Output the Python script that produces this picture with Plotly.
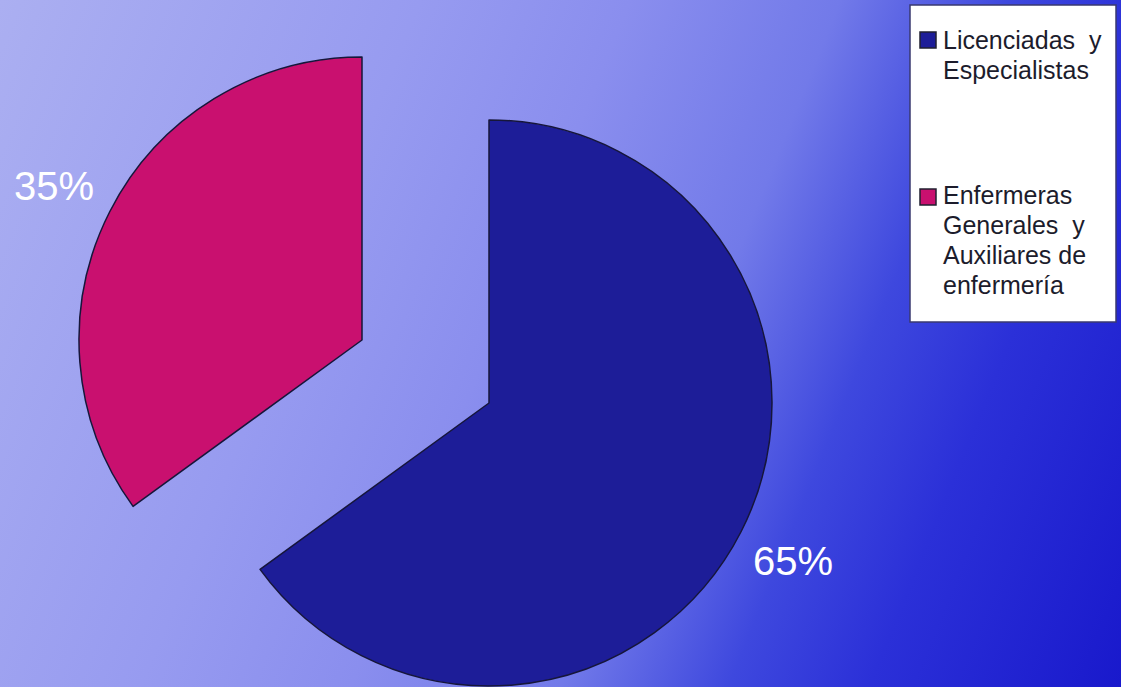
import base64
import math
import plotly.graph_objects as go

# Workforce composition (percent)
labels = ["Licenciadas y Especialistas", "Enfermeras Generales y Auxiliares de enfermería"]
legend_lines = [["Licenciadas  y", "Especialistas"],
                ["Enfermeras", "Generales  y", "Auxiliares de", "enfermería"]]
values = [65, 35]
colors = ["#1d1d98", "#c9106f"]

W, H = 1121, 687
CLEAR = "rgba(0,0,0,0)"
OUTLINE = "#16163a"

# Each slice gets its own pie trace (other slice transparent) so the
# exploded piece can sit at its own centre.
centers = [(489, 403), (362, 340)]   # pixel centres of the two pieces
R = 283                               # radius in pixels

fig = go.Figure()
for k in range(len(values)):
    cx, cy = centers[k]
    xd = [(cx - R) / W, (cx + R) / W]
    yd = [(H - cy - R) / H, (H - cy + R) / H]
    fill = [colors[i] if i == k else CLEAR for i in range(len(values))]
    lcol = [OUTLINE if i == k else CLEAR for i in range(len(values))]
    lwid = [1.5 if i == k else 0 for i in range(len(values))]
    fig.add_trace(go.Pie(
        labels=labels, values=values, sort=False, direction="clockwise",
        rotation=0, textinfo="none", hoverinfo="label+percent",
        marker=dict(colors=fill, line=dict(color=lcol, width=lwid)),
        domain=dict(x=[max(0, xd[0]), min(1, xd[1])], y=[max(0, yd[0]), min(1, yd[1])]),
        showlegend=False,
    ))

# Percentage labels on each slice bisector, outside the arc
total = sum(values)
start = 0.0
for k, v in enumerate(values):
    mid = (start + v / 2) / total * 2 * math.pi
    start += v
    cx, cy = centers[k]
    px = cx + 1.215 * R * math.sin(mid) - 2
    py = cy - 1.215 * R * math.cos(mid) + 2
    fig.add_annotation(x=px / W, y=1 - py / H, xref="paper", yref="paper",
                       text=f"{round(v / total * 100)}%", showarrow=False,
                       xanchor="center", yanchor="middle",
                       font=dict(family="Liberation Sans, Arial", size=40, color="white"))

# Legend box
fig.add_shape(type="rect", xref="paper", yref="paper",
              x0=910 / W, x1=1116 / W, y0=1 - 322 / H, y1=1 - 5 / H,
              fillcolor="white", line=dict(color="#3a3a70", width=1.5), layer="above")
sw_tops = [32, 189]
first_baselines = [50, 205]
LEG_SIZE = 25
for k in range(len(values)):
    t = sw_tops[k]
    fig.add_shape(type="rect", xref="paper", yref="paper",
                  x0=920 / W, x1=936 / W, y0=1 - (t + 16) / H, y1=1 - t / H,
                  fillcolor=colors[k], line=dict(color="#202030", width=1.5), layer="above")
    for j, line in enumerate(legend_lines[k]):
        base = first_baselines[k] + 30 * j
        mid_y = base - 0.39 * LEG_SIZE
        fig.add_annotation(x=941 / W, y=1 - mid_y / H, xref="paper", yref="paper",
                           text=line, showarrow=False,
                           xanchor="left", yanchor="middle", align="left",
                           font=dict(family="Liberation Sans, Arial", size=LEG_SIZE,
                                     color="#1c1c2c"))

# Blue gradient backdrop
svg = f"""<svg xmlns='http://www.w3.org/2000/svg' width='{W}' height='{H}' viewBox='0 0 {W} {H}' preserveAspectRatio='none'>
<defs><linearGradient id='g' gradientUnits='userSpaceOnUse' x1='0' y1='0' x2='1201' y2='490'>
<stop offset='0' stop-color='#abaff1'/>
<stop offset='0.3' stop-color='#979bf0'/>
<stop offset='0.45' stop-color='#8a8eee'/>
<stop offset='0.6' stop-color='#727ae9'/>
<stop offset='0.72' stop-color='#3e48de'/>
<stop offset='0.82' stop-color='#2b30d8'/>
<stop offset='1' stop-color='#1919cc'/>
</linearGradient></defs>
<rect x='0' y='0' width='{W}' height='{H}' fill='url(#g)'/></svg>"""
src = "data:image/svg+xml;base64," + base64.b64encode(svg.encode()).decode()
fig.add_layout_image(dict(source=src, xref="paper", yref="paper", x=0, y=1,
                          sizex=1, sizey=1, sizing="stretch", layer="below",
                          xanchor="left", yanchor="top"))

fig.update_layout(width=W, height=H, margin=dict(l=0, r=0, t=0, b=0),
                  paper_bgcolor="#8a8eee", plot_bgcolor="rgba(0,0,0,0)",
                  showlegend=False)
fig.write_html("out.html")
